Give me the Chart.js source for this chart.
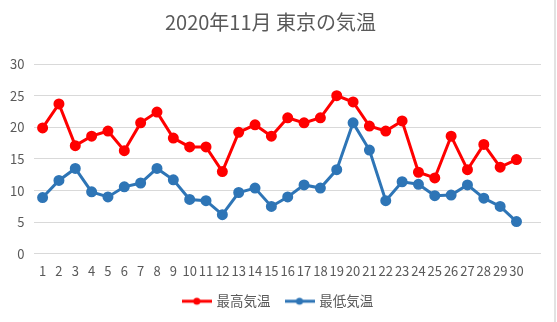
<!DOCTYPE html>
<html>
<head>
<meta charset="utf-8">
<script src="https://cdn.jsdelivr.net/npm/chart.js@4"></script>
<style>
  html, body { margin: 0; padding: 0; background: #fff; }
  #wrap { position: relative; width: 557px; height: 322px; }
</style>
</head>
<body>
<div id="wrap"><canvas id="tempChart"></canvas></div>
<script>
// 31 category slots as in the source sheet; the last one is left empty
const days = ['1', '2', '3', '4', '5', '6', '7', '8', '9', '10',
              '11', '12', '13', '14', '15', '16', '17', '18', '19', '20',
              '21', '22', '23', '24', '25', '26', '27', '28', '29', '30', ''];
const maxTemps = [19.9, 23.7, 17.1, 18.6, 19.4, 16.3, 20.7, 22.4, 18.3, 16.9,
                  16.9, 13.0, 19.2, 20.4, 18.6, 21.5, 20.7, 21.5, 25.0, 24.0,
                  20.2, 19.4, 21.0, 12.9, 12.0, 18.6, 13.3, 17.3, 13.7, 14.9, null];
const minTemps = [8.9, 11.6, 13.5, 9.8, 9.0, 10.6, 11.2, 13.5, 11.7, 8.6,
                  8.4, 6.2, 9.7, 10.4, 7.5, 9.0, 10.9, 10.4, 13.3, 20.7,
                  16.4, 8.4, 11.4, 11.0, 9.2, 9.3, 10.9, 8.8, 7.5, 5.1, null];

const FONT = "'Noto Sans CJK JP', 'Noto Sans', sans-serif";
const red = '#FF0000';
const blue = '#2E75B6';

// legend marker: short line with a dot in the middle
function legendMarker(color) {
    const c = document.createElement('canvas');
    c.width = 30; c.height = 10;
    const g = c.getContext('2d');
    g.strokeStyle = color; g.lineWidth = 3;
    g.beginPath(); g.moveTo(0, 5); g.lineTo(30, 5); g.stroke();
    g.fillStyle = color;
    g.beginPath(); g.arc(15, 5, 3.5, 0, Math.PI * 2); g.fill();
    return c;
}

// thin frame line on the right edge, like the cropped chart border
const edgeLine = {
    id: 'edgeLine',
    afterDraw(chart) {
        const ctx = chart.ctx;
        ctx.save();
        ctx.strokeStyle = '#d9d9d9';
        ctx.lineWidth = 1.5;
        ctx.beginPath();
        ctx.moveTo(chart.width - 2, 0);
        ctx.lineTo(chart.width - 2, chart.height);
        ctx.stroke();
        ctx.restore();
    }
};

// centre the legend on the whole canvas, not on the padded area
const legendShift = {
    id: 'legendShift',
    afterLayout(chart) {
        const lg = chart.legend;
        lg.left += 8;
        lg.right += 8;
        lg.top -= 1;
        lg.bottom -= 1;
    }
};

new Chart(document.getElementById('tempChart'), {
    type: 'line',
    data: {
        labels: days,
        datasets: [
            {
                label: '最高気温',
                data: maxTemps,
                borderColor: red,
                backgroundColor: red,
                borderWidth: 3,
                pointRadius: 4,
                pointHoverRadius: 4,
                tension: 0
            },
            {
                label: '最低気温',
                data: minTemps,
                borderColor: blue,
                backgroundColor: blue,
                borderWidth: 3,
                pointRadius: 4,
                pointHoverRadius: 4,
                tension: 0
            }
        ]
    },
    options: {
        responsive: true,
        maintainAspectRatio: false,
        animation: false,
        layout: { padding: { left: 0, right: 16, top: 0, bottom: 3 } },
        scales: {
            x: {
                offset: true,
                grid: { display: false },
                border: { display: false },
                ticks: { color: '#595959', font: { family: FONT, size: 13 }, maxRotation: 0, autoSkip: false, padding: 1 }
            },
            y: {
                min: 0,
                max: 30,
                ticks: { stepSize: 5, color: '#595959', font: { family: FONT, size: 13 }, padding: 10 },
                grid: { color: '#d9d9d9', drawTicks: false },
                border: { display: false }
            }
        },
        plugins: {
            title: {
                display: true,
                text: '2020年11月 東京の気温',
                color: '#595959',
                font: { family: FONT, size: 20, weight: 'normal' },
                padding: { top: 10, bottom: 30 }
            },
            legend: {
                position: 'bottom',
                labels: {
                    usePointStyle: true,
                    pointStyleWidth: 26,
                    color: '#595959',
                    font: { family: FONT, size: 13.5 },
                    padding: 16,
                    generateLabels: (chart) => chart.data.datasets.map((ds, i) => ({
                        text: ds.label,
                        fontColor: '#595959',
                        pointStyle: legendMarker(ds.borderColor),
                        datasetIndex: i,
                        hidden: false,
                        lineWidth: 0
                    }))
                }
            },
            tooltip: { enabled: false }
        }
    },
    plugins: [edgeLine, legendShift]
});
</script>
</body>
</html>
